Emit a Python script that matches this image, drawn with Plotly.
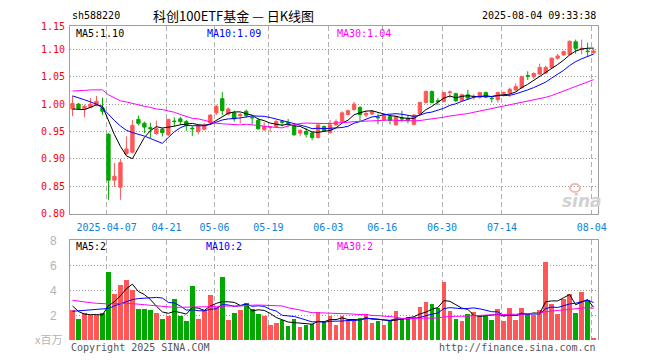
import plotly.graph_objects as go

# ---------------- data ----------------
dates = ["03-27","03-28","03-31","04-01","04-02","04-03","04-07","04-08","04-09","04-10",
         "04-11","04-14","04-15","04-16","04-17","04-18","04-21","04-22","04-23","04-24",
         "04-25","04-28","04-29","04-30","05-06","05-07","05-08","05-09","05-12","05-13",
         "05-14","05-15","05-16","05-19","05-20","05-21","05-22","05-23","05-26","05-27",
         "05-28","05-29","05-30","06-03","06-04","06-05","06-06","06-09","06-10","06-11",
         "06-12","06-13","06-16","06-17","06-18","06-19","06-20","06-23","06-24","06-25",
         "06-26","06-27","06-30","07-01","07-02","07-03","07-04","07-07","07-08","07-09",
         "07-10","07-11","07-14","07-15","07-16","07-17","07-18","07-21","07-22","07-23",
         "07-24","07-25","07-28","07-29","07-30","07-31","08-01","08-04"]

open_ = [0.991,1.000,0.992,0.994,0.999,0.993,0.945,0.861,0.848,0.909,
         0.912,0.972,0.965,0.957,0.946,0.954,0.944,0.969,0.973,0.968,
         0.956,0.950,0.954,0.966,0.984,1.010,0.982,0.984,0.979,0.987,
         0.976,0.970,0.953,0.957,0.959,0.968,0.966,0.960,0.947,0.950,
         0.947,0.939,0.959,0.948,0.962,0.968,0.981,0.990,0.994,0.980,
         0.982,0.976,0.971,0.977,0.962,0.974,0.973,0.963,0.982,1.003,
         1.023,1.006,1.005,1.021,1.019,1.007,1.017,1.013,1.012,1.021,
         1.011,1.008,1.020,1.021,1.026,1.030,1.052,1.050,1.055,1.057,
         1.067,1.084,1.090,1.091,1.114,1.100,1.097,1.094]
high = [1.015,1.002,0.999,1.011,1.015,1.012,0.947,0.892,0.900,0.941,
        0.971,0.979,0.968,0.966,0.970,0.957,0.973,0.976,0.977,0.971,
        0.960,0.961,0.965,0.981,0.999,1.022,0.994,0.988,0.984,0.990,
        0.980,0.974,0.967,0.960,0.971,0.971,0.973,0.962,0.954,0.956,
        0.950,0.963,0.961,0.971,0.972,0.987,0.990,1.004,0.996,0.988,
        0.989,0.983,0.982,0.979,0.979,0.988,0.980,0.982,1.004,1.025,
        1.025,1.011,1.022,1.025,1.021,1.019,1.026,1.018,1.022,1.023,
        1.014,1.023,1.023,1.030,1.038,1.052,1.060,1.058,1.074,1.070,
        1.085,1.092,1.098,1.116,1.118,1.118,1.112,1.102]
low = [0.978,0.990,0.976,0.993,0.996,0.980,0.825,0.849,0.825,0.908,
       0.910,0.961,0.947,0.938,0.944,0.941,0.942,0.959,0.962,0.951,
       0.942,0.945,0.952,0.962,0.980,0.980,0.979,0.968,0.965,0.975,
       0.963,0.953,0.951,0.949,0.957,0.959,0.959,0.942,0.941,0.939,
       0.934,0.937,0.949,0.946,0.960,0.966,0.979,0.988,0.968,0.976,
       0.980,0.963,0.969,0.963,0.961,0.968,0.965,0.961,0.980,1.001,
       1.001,0.998,1.003,1.011,1.004,1.005,1.008,1.008,1.010,1.011,
       1.003,1.003,1.014,1.013,1.023,1.028,1.044,1.046,1.053,1.055,
       1.065,1.081,1.088,1.089,1.092,1.091,1.088,1.092]
close = [1.001,0.992,0.996,1.000,1.005,0.987,0.861,0.868,0.893,0.918,
         0.961,0.965,0.958,0.955,0.955,0.948,0.972,0.968,0.968,0.961,
         0.955,0.960,0.962,0.980,0.996,0.988,0.991,0.973,0.981,0.979,
         0.975,0.955,0.959,0.958,0.968,0.967,0.965,0.944,0.952,0.945,
         0.939,0.962,0.951,0.962,0.968,0.984,0.988,1.000,0.981,0.983,
         0.987,0.975,0.980,0.970,0.977,0.973,0.970,0.980,1.003,1.023,
         1.003,1.005,1.021,1.022,1.006,1.017,1.011,1.014,1.021,1.013,
         1.010,1.021,1.021,1.027,1.032,1.050,1.051,1.056,1.067,1.067,
         1.084,1.088,1.096,1.115,1.102,1.102,1.096,1.097]
volume = [2.37,1.71,2.16,2.03,2.03,2.19,5.47,3.71,4.43,4.83,
          4.03,2.51,2.51,2.43,2.19,1.71,1.95,3.31,1.95,1.55,
          4.35,1.71,2.43,3.63,2.64,5.07,1.63,2.19,2.43,2.99,
          2.48,2.11,1.95,1.23,1.36,1.63,1.15,1.71,1.07,1.23,
          1.28,2.27,1.55,1.95,1.23,1.95,1.63,1.55,1.79,2.11,
          1.39,1.55,1.23,1.55,2.35,1.79,1.87,1.87,2.67,3.07,
          2.91,2.59,4.67,2.35,1.71,1.55,2.11,2.27,1.95,2.03,
          1.63,2.51,1.55,2.59,1.63,2.59,2.11,2.03,2.43,6.27,
          2.91,2.11,3.31,3.71,2.19,3.87,3.23,0.19]

# moving-average values for days whose window starts before the first candle
price_ma5_head = [0.991, 0.991, 0.990, 0.994]
price_ma10_head = [1.015, 1.012, 1.008, 1.004, 1.000, 0.993, 0.981, 0.970, 0.960]
price_ma30_head = [1.024, 1.024, 1.025, 1.026, 1.026, 1.026, 1.017, 1.011, 1.006, 1.004,
                   1.001, 0.999, 0.996, 0.994, 0.991, 0.990, 0.988, 0.985, 0.981, 0.977,
                   0.974, 0.973, 0.970, 0.968, 0.965, 0.964, 0.963, 0.963, 0.962]
vol_ma5_head = [2.75, 2.30, 2.10, 2.05]
vol_ma10_head = [2.32, 2.36, 2.40, 2.42, 2.43, 2.46, 2.55, 2.75, 2.92]
vol_ma30_head = [3.20, 3.12, 3.07, 3.01, 2.96, 2.91, 2.91, 2.93, 2.96, 2.96,
                 2.93, 2.91, 2.85, 2.80, 2.75, 2.69, 2.67, 2.64, 2.64, 2.64,
                 2.69, 2.69, 2.69, 2.69, 2.72, 2.75, 2.75, 2.75, 2.75]

tick_dates = ["04-07", "04-21", "05-06", "05-19", "06-03", "06-16", "06-30", "07-14", "08-04"]
tick_labels = ["2025-04-07", "04-21", "05-06", "05-19", "06-03", "06-16", "06-30", "07-14", "08-04"]
price_ticks = [0.80, 0.85, 0.90, 0.95, 1.00, 1.05, 1.10]
price_tick_labels = ["0.80", "0.85", "0.90", "0.95", "1.00", "1.05", "1.10"]
vol_ticks = [2, 4, 6, 8]
vol_tick_labels = ["2", "4", "6", "8"]

title_code = "sh588220"
title_name = "科创100ETF基金 — 日K线图"
timestamp = "2025-08-04 09:33:38"
price_ma_labels = ["MA5:1.10", "MA10:1.09", "MA30:1.04"]
vol_ma_labels = ["MA5:2", "MA10:2", "MA30:2"]


def moving_average(values, n, head):
    out = []
    for i in range(len(values)):
        if i >= n - 1:
            out.append(sum(values[i - n + 1:i + 1]) / n)
        else:
            out.append(head[i])
    return out


# ---------------- styling ----------------
W, H = 660, 360
UP = "#ff5757"
DOWN = "#00a800"
MONO = "DejaVu Sans Mono"
GRID = "#b0b0b0"
BORDER = "#a0a0a0"

x = list(range(len(dates)))
tickpos = [dates.index(d) - 0.3 for d in tick_dates]

PL, PR = 70, 597.5
MAIN_T, MAIN_B = 26, 213.5
VOL_T, VOL_B = 240.3, 340.3


def fx(px):
    return px / W


def fy(py):
    return 1 - py / H


fig = go.Figure()

fig.add_trace(go.Candlestick(
    x=x, open=open_, high=high, low=low, close=close,
    increasing=dict(line=dict(color=UP, width=1), fillcolor=UP),
    decreasing=dict(line=dict(color=DOWN, width=1), fillcolor=DOWN),
    whiskerwidth=0, xaxis="x", yaxis="y", hoverinfo="skip", showlegend=False))

for vals, col in [(moving_average(close, 5, price_ma5_head), "#000000"),
                  (moving_average(close, 10, price_ma10_head), "#0000ff"),
                  (moving_average(close, 30, price_ma30_head), "#ff00ff")]:
    fig.add_trace(go.Scatter(x=x, y=vals, mode="lines", line=dict(color=col, width=1),
                             xaxis="x", yaxis="y", showlegend=False, hoverinfo="skip"))

bar_colors = [UP if c >= o else DOWN for o, c in zip(open_, close)]
fig.add_trace(go.Bar(x=x, y=volume, marker=dict(color=bar_colors, line=dict(width=0)),
                     width=0.78, xaxis="x2", yaxis="y2", showlegend=False, hoverinfo="skip"))

for vals, col in [(moving_average(volume, 5, vol_ma5_head), "#000000"),
                  (moving_average(volume, 10, vol_ma10_head), "#0000ff"),
                  (moving_average(volume, 30, vol_ma30_head), "#ff00ff")]:
    fig.add_trace(go.Scatter(x=x, y=vals, mode="lines", line=dict(color=col, width=1),
                             xaxis="x2", yaxis="y2", showlegend=False, hoverinfo="skip"))

xrange = [-0.42, len(dates) - 1 + 0.65]
common_x = dict(range=xrange, domain=[fx(PL), fx(PR)], tickmode="array", tickvals=tickpos,
                showgrid=True, gridcolor=GRID, griddash="5px,3px", gridwidth=1,
                zeroline=False, ticks="", fixedrange=True, automargin=False)

fig.update_layout(
    width=W, height=H, margin=dict(l=0, r=0, t=0, b=0, pad=0, autoexpand=False),
    paper_bgcolor="white", plot_bgcolor="white",
    boxgap=0.2, bargap=0,
    xaxis=dict(**common_x, anchor="y", ticktext=tick_labels,
               tickfont=dict(family=MONO, size=10, color="#0a84d8"),
               showline=True, linecolor=BORDER, linewidth=1, mirror=True,
               rangeslider=dict(visible=False), ticklabelstandoff=4),
    yaxis=dict(range=[0.80, 1.1428], domain=[fy(MAIN_B), fy(MAIN_T)],
               tickmode="array", tickvals=price_ticks, ticktext=price_tick_labels,
               tickfont=dict(family=MONO, size=10, color="#ff0000"),
               showgrid=True, gridcolor="#9a9a9a", griddash="1px,2px", gridwidth=1,
               showline=True, linecolor=BORDER, linewidth=1, mirror=True,
               zeroline=False, ticks="", anchor="x", fixedrange=True, ticklabelstandoff=2,
               automargin=False),
    xaxis2=dict(**common_x, anchor="y2", side="top", showticklabels=False,
                showline=True, linecolor=BORDER, linewidth=1, mirror=False),
    yaxis2=dict(range=[0, 8], domain=[fy(VOL_B), fy(VOL_T)],
                tickmode="array", tickvals=vol_ticks, ticktext=vol_tick_labels,
                tickfont=dict(family="Liberation Sans", size=12, color="#b4b4b4"),
                showgrid=True, gridcolor="#9a9a9a", griddash="1px,2px", gridwidth=1,
                showline=True, linecolor=BORDER, linewidth=1, mirror=True,
                zeroline=False, ticks="", anchor="x2", fixedrange=True, ticklabelstandoff=10,
                automargin=False),
)

ann = []


def text(s, px, py, anchor="left", color="#000000", size=10, family=MONO, **kw):
    ann.append(dict(text=s, x=fx(px), y=fy(py), xref="paper", yref="paper",
                    xanchor=anchor, yanchor="middle", showarrow=False,
                    font=dict(family=family, size=size, color=color), **kw))


text(title_code, 70, 16)
text(title_name, 233, 16, anchor="center", size=13, family="Noto Sans CJK SC")
text(timestamp, 598, 16, anchor="right")
text("1.15", 67, 27, anchor="right", color="#ff0000")
for lbl, px, col in zip(price_ma_labels, [74, 205, 335], ["#000000", "#0000ff", "#ff00ff"]):
    text(lbl, px, 33, color=col)
for lbl, px, col in zip(vol_ma_labels, [74, 204, 335], ["#000000", "#0000ff", "#ff00ff"]):
    text(lbl, px, 246, color=col)
text("x百万", 64, 339, anchor="right", color="#b4b4b4", size=11, family="Noto Sans CJK SC")
text("Copyright 2025 SINA.COM", 69, 347, color="#555555")
text("http://finance.sina.com.cn", 598, 347, anchor="right", color="#555555")
text("<b><i>sina</i></b>", 582, 201, anchor="center", color="#d2d2d2", size=17, family="DejaVu Sans")
fig.update_layout(annotations=ann)

fig.add_shape(type="circle", xref="paper", yref="paper",
              x0=fx(570), x1=fx(580), y0=fy(192), y1=fy(184),
              line=dict(color="#f2b8b8", width=2), fillcolor="rgba(0,0,0,0)")

fig.write_html("out.html", config={"displayModeBar": False},
               post_script="document.body.style.margin='0px';")
